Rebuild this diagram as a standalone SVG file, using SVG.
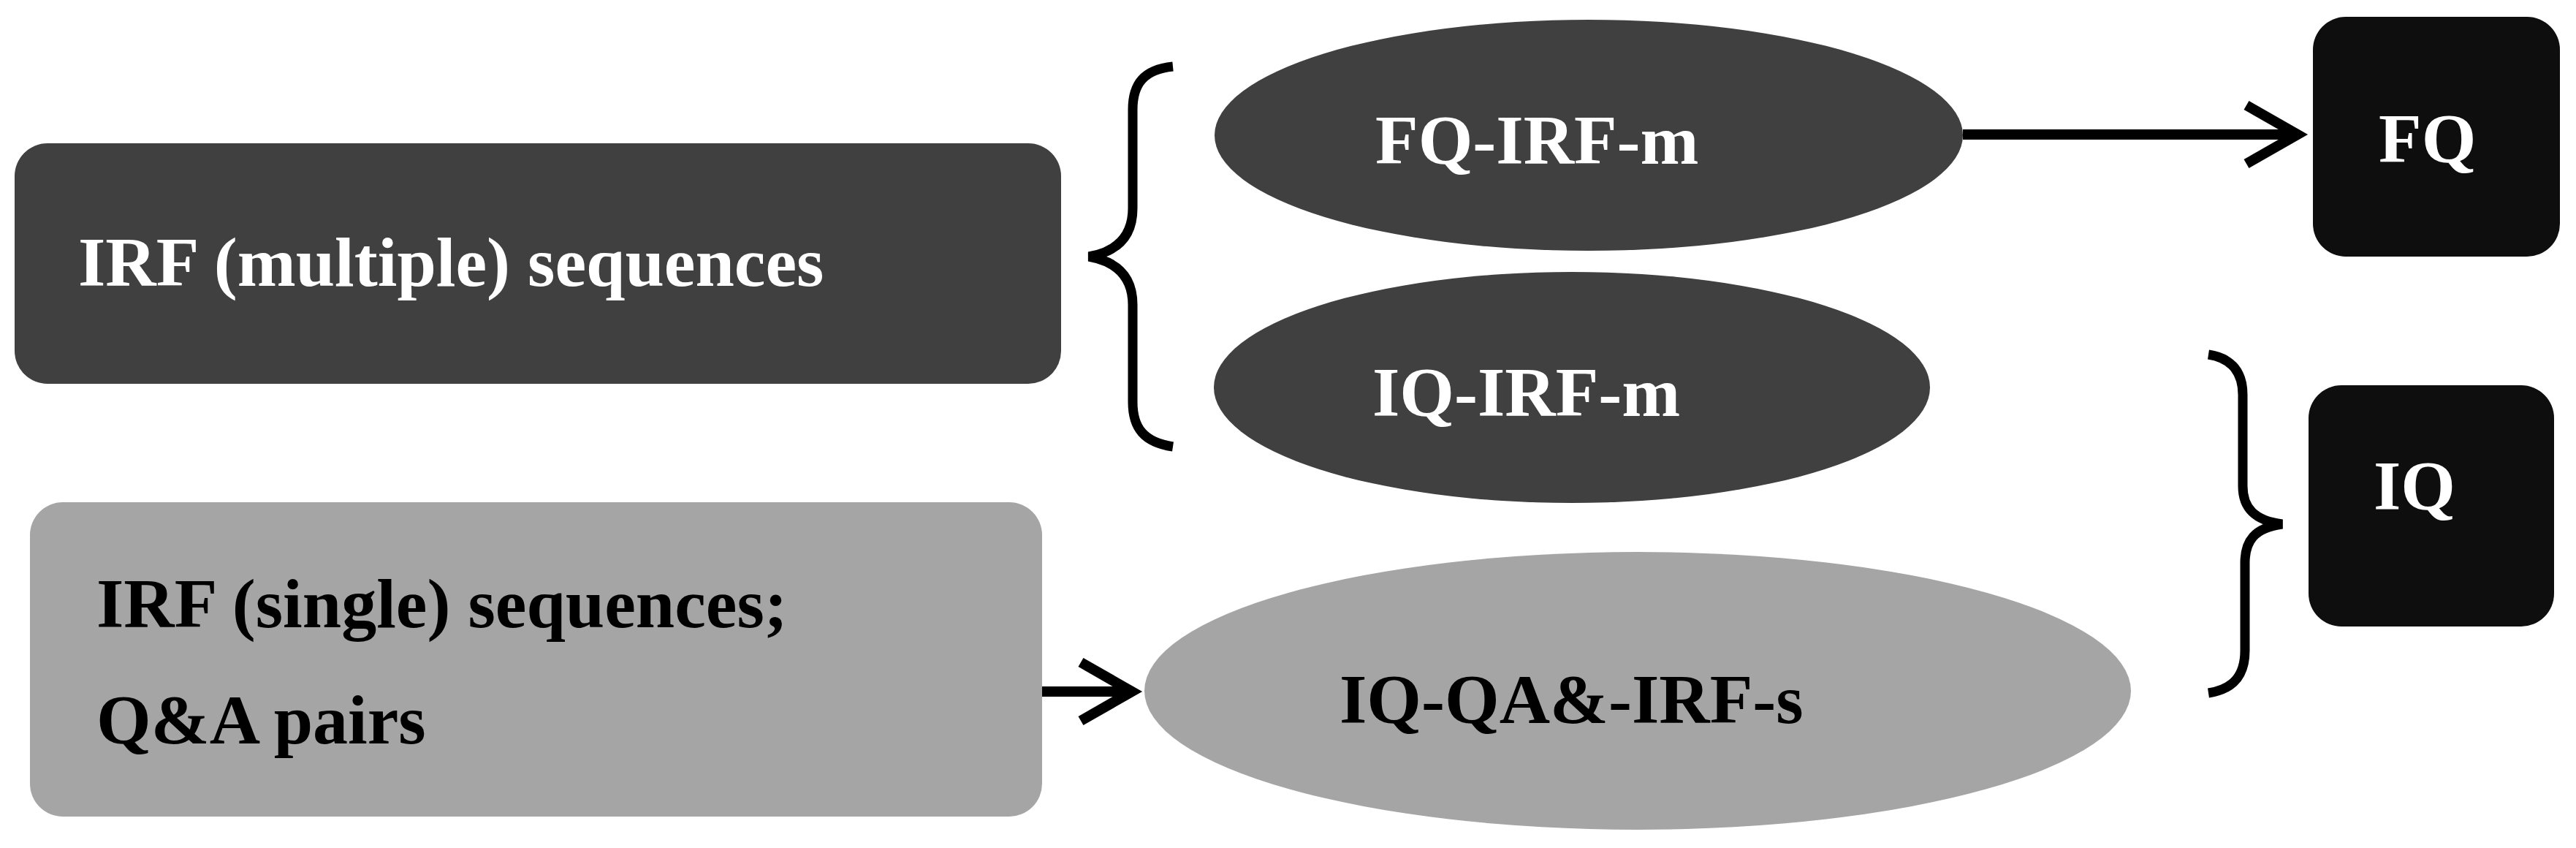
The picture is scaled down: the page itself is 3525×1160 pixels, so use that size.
<svg xmlns="http://www.w3.org/2000/svg" width="3525" height="1160" viewBox="0 0 3525 1160">
<style>
.lbl{font-family:"Liberation Serif","Times New Roman",serif;font-weight:bold;font-size:96px}
.w{fill:#ffffff}
.b{fill:#000000}
.dark{fill:#404040}
.gray{fill:#a5a5a5}
.black{fill:#0e0e0e}
.con{stroke:#000;stroke-width:14;fill:none}
.brace{stroke:#000;stroke-width:13;fill:none;stroke-linecap:butt}
</style>
<defs>
<marker id="chev" markerUnits="userSpaceOnUse" markerWidth="100" markerHeight="100" viewBox="-10 -10 100 100" refX="70" refY="40" orient="auto" overflow="visible">
<path d="M0,0 L70,40 L0,80" fill="none" stroke="#000" stroke-width="14"/>
</marker>
</defs>
<rect width="3525" height="1160" fill="#ffffff"/>
<g id="node-irf-multiple">
<rect class="dark" x="20" y="196" width="1432" height="329" rx="45" ry="45"/>
<text class="lbl w" x="107" y="391">IRF (multiple) sequences</text>
</g>
<g id="node-irf-single">
<rect class="gray" x="41" y="687" width="1385" height="430" rx="45" ry="45"/>
<text class="lbl b" x="132" y="858">IRF (single) sequences;</text>
<text class="lbl b" x="132" y="1017">Q&amp;A pairs</text>
</g>
<g id="node-fq-irf-m">
<ellipse class="dark" cx="2174" cy="185" rx="512" ry="158"/>
<text class="lbl w" x="1882" y="224">FQ-IRF-m</text>
</g>
<g id="node-iq-irf-m">
<ellipse class="dark" cx="2151" cy="530" rx="490" ry="158"/>
<text class="lbl w" x="1878" y="569">IQ-IRF-m</text>
</g>
<g id="node-iq-qa-irf-s">
<ellipse class="gray" cx="2241" cy="945" rx="675" ry="190"/>
<text class="lbl b" x="1833" y="989">IQ-QA&amp;-IRF-s</text>
</g>
<g id="node-fq">
<rect class="black" x="3165" y="23" width="338" height="328" rx="45" ry="45"/>
<text class="lbl w" x="3255" y="222">FQ</text>
</g>
<g id="node-iq">
<rect class="black" x="3159" y="527" width="336" height="330" rx="45" ry="45"/>
<text class="lbl w" x="3248" y="697">IQ</text>
</g>
<g id="connectors">
<path class="brace" d="M1605,91 C1565,95 1550,115 1550,150 L1550,285 C1550,322 1530,344 1490,351 C1530,358 1550,380 1550,417 L1550,550 C1550,585 1565,605 1605,611"/>
<path class="brace" d="M3022,485 C3055,490 3069,510 3069,540 L3069,665 C3069,695 3085,712 3123,717 C3085,722 3072,740 3072,770 L3072,890 C3072,925 3055,943 3022,948"/>
<line class="con" x1="2686" y1="184" x2="3144" y2="184" marker-end="url(#chev)"/>
<line class="con" x1="1426" y1="946" x2="1549" y2="946" marker-end="url(#chev)"/>
</g>
</svg>
